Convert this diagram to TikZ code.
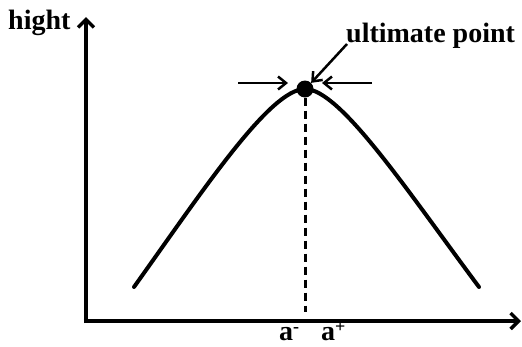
\documentclass[tikz,border=0pt]{standalone}
\usepackage{fontspec}
\setmainfont{Liberation Serif}
\usetikzlibrary{arrows.meta}
\newcommand{\supsign}[1]{\raisebox{7.5pt}{\fontsize{18}{18}\selectfont #1}}
\begin{document}
\begin{tikzpicture}[x=1pt,y=-1pt,font=\bfseries\fontsize{28}{32}\selectfont]
  \def\xo{86}      % origin x
  \def\yo{321}     % origin y
  \def\xp{305}     % peak x
  \def\yp{89}      % peak y

  \tikzstyle{axis}=[line width=4.5pt,-{Straight Barb[length=8pt,width=16pt,line width=3.5pt]}]
  \tikzstyle{curve}=[line width=4pt,line cap=round]
  \tikzstyle{pointer}=[line width=2.5pt,-{Straight Barb[length=8pt,width=13pt]}]

  \useasboundingbox (0,0) rectangle (522,346);

  % AXES
  \coordinate (origin) at (\xo-2.2,\yo);
  \coordinate (ytip) at (\xo,17);
  \coordinate (xtip) at (521,\yo);
  \draw[axis] (\xo,\yo+2.2) -- (ytip);
  \draw[axis] (origin) -- (xtip);
  \node[anchor=base west,inner sep=0pt] (ylabel) at (8,29) {hight};

  % CURVE
  \coordinate (left) at (134,287);
  \coordinate (right) at (479,287);
  \coordinate (peak) at (\xp,\yp);
  \draw[curve] (left) .. controls (204,189) and (270,\yp) .. (peak)
    .. controls (340,\yp) and (406,189) .. (right);

  % ULTIMATE POINT
  \node[circle,fill=black,inner sep=0pt,minimum size=17pt] (top) at (peak) {};
  \coordinate (foot) at (\xp,312);
  \draw[line width=3pt,dash pattern=on 8pt off 5pt] (top) -- (foot);
  \coordinate (lfrom) at (238,83);
  \coordinate (lto) at (288,83);
  \coordinate (rfrom) at (372,83);
  \coordinate (rto) at (322,83);
  \draw[pointer] (lfrom) -- (lto);
  \draw[pointer] (rfrom) -- (rto);
  \node[anchor=base west,inner sep=0pt] (ulabel) at (346,42) {ultimate point};
  \coordinate (ufrom) at (347,44);
  \draw[pointer] (ufrom) -- (top.north east);

  % LIMITS
  \node[anchor=base west,inner sep=0pt] (aminus) at (279,340) {a\supsign{-}};
  \node[anchor=base west,inner sep=0pt] (aplus) at (321,340) {a\supsign{+}};
\end{tikzpicture}
\end{document}
